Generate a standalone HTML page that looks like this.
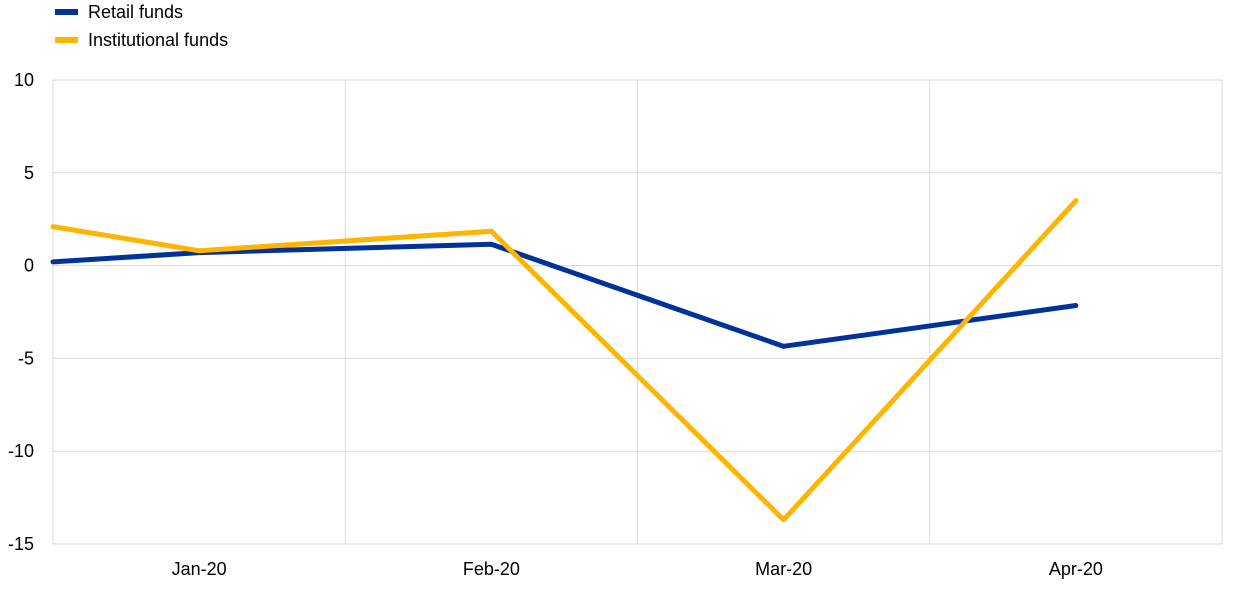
<!DOCTYPE html>
<html><head><meta charset="utf-8"><style>
body{margin:0;background:#fff;font-family:"Liberation Sans",sans-serif}
svg text{font-family:"Liberation Sans",sans-serif;font-size:18px;fill:#000}
</style></head><body>
<svg width="1240" height="589">
<g id="legend">
<g><line x1="55" y1="12" x2="78" y2="12" stroke="#003299" stroke-width="6"/><text x="88" y="18">Retail funds</text></g>
<g><line x1="55" y1="40" x2="78" y2="40" stroke="#FFB400" stroke-width="6"/><text x="88" y="46">Institutional funds</text></g>
</g>
<g id="grid"></g>
<g id="axes"></g>
<g id="series"></g>
</svg>
<script>
const categories=["Jan-20","Feb-20","Mar-20","Apr-20"];
const retailStart=0.2;
const retail=[0.7,1.15,-4.35,-2.15];
const instStart=2.1;
const institutional=[0.8,1.85,-13.7,3.5];
const yTicks=[10,5,0,-5,-10,-15];
const NS="http://www.w3.org/2000/svg";
const L=53,R=1222,T=80,B=544,yMin=-15,yMax=10;
const band=(R-L)/4;
function y(v){return T+(yMax-v)/(yMax-yMin)*(B-T);}
function x(i){return L+band*(i+0.5)-band/2+ (i>=0?band/2:0);}
function xc(i){return i<0?L:L+band*i+band/2;}
function mk(tag,attrs,parent){const e=document.createElementNS(NS,tag);for(const k in attrs)e.setAttribute(k,attrs[k]);parent.appendChild(e);return e;}
const grid=document.getElementById('grid'),axes=document.getElementById('axes'),series=document.getElementById('series');
yTicks.forEach(v=>{
 const l=mk('line',{x1:L,x2:R,y1:y(v),y2:y(v),stroke:'#d9d9d9','stroke-width':1},grid);
 
 
 const t=mk('text',{x:34,y:y(v)+6,'text-anchor':'end'},axes);
 t.textContent=v;
 
 
});
for(let i=0;i<=4;i++){
 const l=mk('line',{x1:L+band*i,x2:L+band*i,y1:T,y2:B,stroke:'#d9d9d9','stroke-width':1},grid);
 
 
}
categories.forEach((c,i)=>{
 const t=mk('text',{x:xc(i),y:B+31,'text-anchor':'middle'},axes);
 t.textContent=c;
 
 
});
function draw(start,vals,color,name){
 let pts=[[xc(-1),y(start)]].concat(vals.map((v,i)=>[xc(i),y(v)]));
 const p=mk('polyline',{points:pts.map(p=>p.join(',')).join(' '),fill:'none',stroke:color,'stroke-width':5,'stroke-linejoin':'round','stroke-linecap':'round'},series);
 
 
}
draw(retailStart,retail,'#003299','retail-funds-line');
draw(instStart,institutional,'#FFB400','institutional-funds-line');
</script>
</body></html>
